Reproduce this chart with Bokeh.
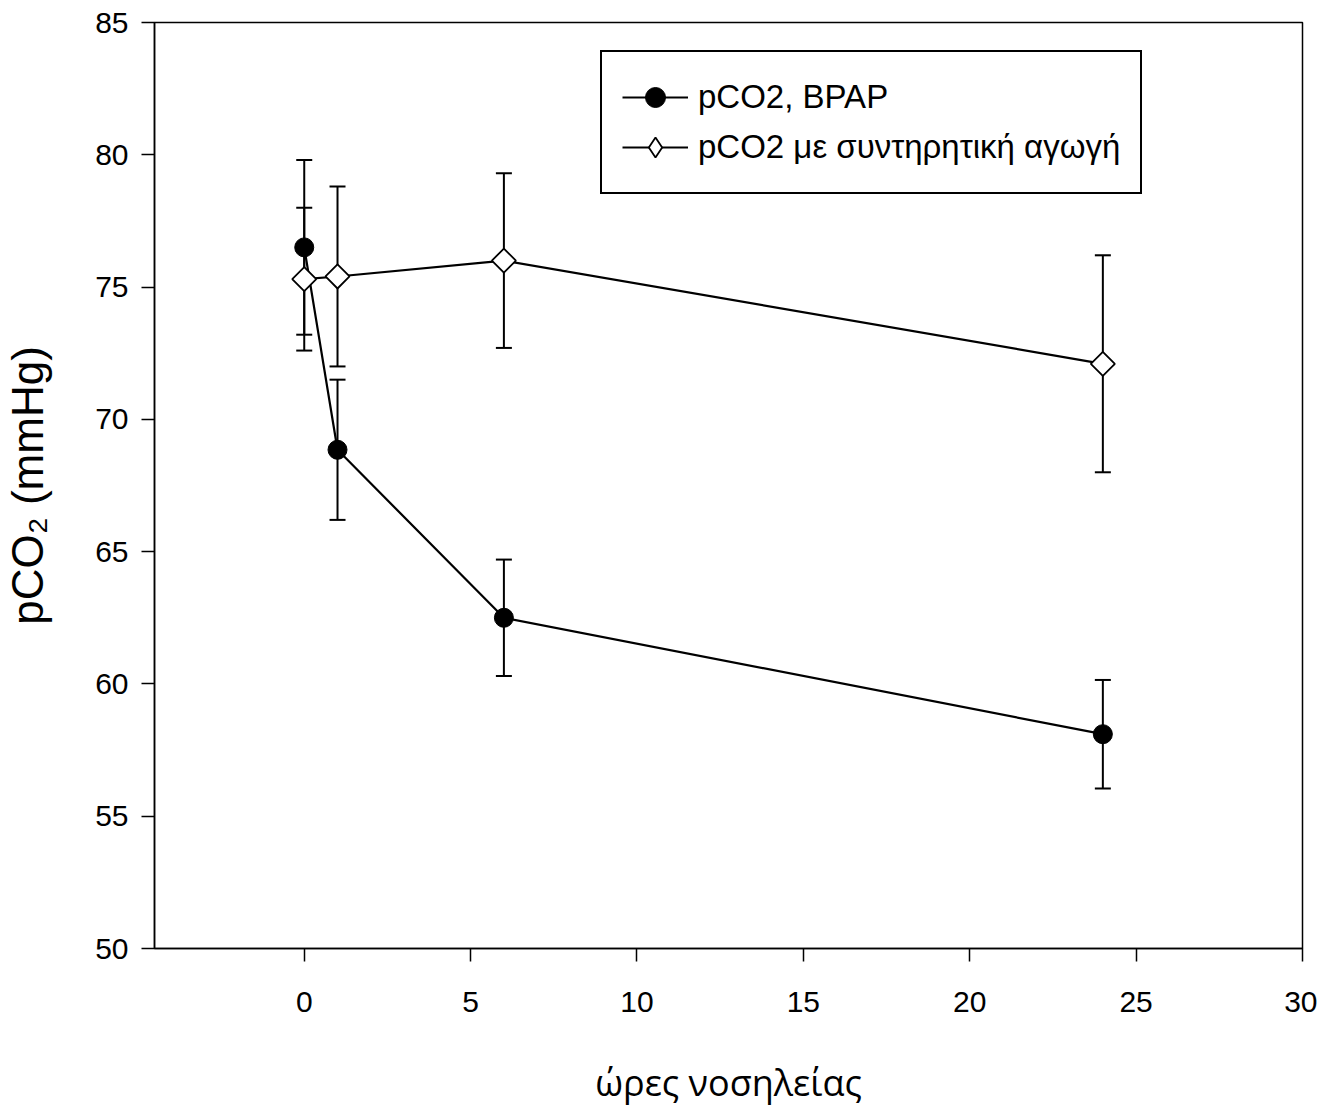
import numpy as np
from bokeh.plotting import figure
from bokeh.models import ColumnDataSource, Whisker, TeeHead, Legend, LegendItem, Range1d, FixedTicker
from bokeh.embed import file_html
from bokeh.resources import INLINE

# Data
hours = [0, 1, 6, 24]
bpap_mean = [76.5, 68.85, 62.5, 58.1]
bpap_err = [3.3, 2.65, 2.2, 2.05]
cons_mean = [75.3, 75.4, 76.0, 72.1]
cons_err = [2.7, 3.4, 3.3, 4.1]
x_ticks = [0, 5, 10, 15, 20, 25, 30]
y_ticks = [50, 55, 60, 65, 70, 75, 80, 85]
series_names = ["pCO2, BPAP", "pCO2 με συντηρητική αγωγή"]

bpap_src = ColumnDataSource(dict(
    x=hours, y=bpap_mean,
    lo=[m - e for m, e in zip(bpap_mean, bpap_err)],
    hi=[m + e for m, e in zip(bpap_mean, bpap_err)]))
cons_src = ColumnDataSource(dict(
    x=hours, y=cons_mean,
    lo=[m - e for m, e in zip(cons_mean, cons_err)],
    hi=[m + e for m, e in zip(cons_mean, cons_err)]))

p = figure(width=1317, height=1093, output_backend="svg", toolbar_location=None,
           x_range=Range1d(-4.5, 30), y_range=Range1d(50, 85),
           min_border_left=154, min_border_top=22, min_border_right=15, min_border_bottom=145)
p.frame_width = 1148
p.frame_height = 926

p.grid.visible = False
p.outline_line_color = "black"
p.outline_line_width = 1.5
p.outline_line_alpha = 1.0
p.background_fill_color = "white"
p.border_fill_color = "white"

for ax in (p.xaxis[0], p.yaxis[0]):
    ax.axis_line_color = "black"
    ax.axis_line_width = 1.5
    ax.major_tick_line_color = "black"
    ax.major_tick_line_width = 1.5
    ax.major_tick_out = 13
    ax.major_tick_in = 0
    ax.minor_tick_line_color = None
    ax.major_label_text_font = "Liberation Sans"
    ax.major_label_text_font_size = "30px"
    ax.major_label_text_color = "black"
    ax.axis_label_text_font_style = "normal"
    ax.axis_label_text_color = "black"

p.xaxis.ticker = FixedTicker(ticks=x_ticks)
p.yaxis.ticker = FixedTicker(ticks=y_ticks)
p.xaxis.major_label_standoff = 30
p.yaxis.major_label_standoff = 13

p.xaxis.axis_label = "ώρες νοσηλείας"
p.xaxis.axis_label_text_font = "Open Sans"
p.xaxis.axis_label_text_font_size = "36px"
p.xaxis.axis_label_standoff = 43

p.yaxis.axis_label = "pCO₂ (mmHg)"
p.yaxis.axis_label_text_font = "Liberation Sans"
p.yaxis.axis_label_text_font_size = "44px"
p.yaxis.axis_label_standoff = 40

# error bars
for src in (bpap_src, cons_src):
    w = Whisker(source=src, base="x", lower="lo", upper="hi", dimension="height",
                line_color="black", line_width=2,
                lower_head=TeeHead(size=16, line_color="black", line_width=2),
                upper_head=TeeHead(size=16, line_color="black", line_width=2))
    p.add_layout(w)

l1 = p.line("x", "y", source=bpap_src, line_color="black", line_width=2.2)
l2 = p.line("x", "y", source=cons_src, line_color="black", line_width=2.2)
s2 = p.scatter("x", "y", source=cons_src, marker="square", angle=np.pi / 4, size=17,
               fill_color="white", line_color="black", line_width=1.8)
s1 = p.scatter("x", "y", source=bpap_src, marker="circle", size=19,
               fill_color="black", line_color="black")
# legend-only diamond marker (legend glyphs are drawn unrotated); NaN = not drawn in plot
s2_leg = p.scatter(x=[np.nan], y=[np.nan], marker="diamond", fill_color="white",
                   line_color="black", line_width=1.8)

legend = Legend(items=[LegendItem(label=series_names[0], renderers=[l1, s1]),
                       LegendItem(label=series_names[1], renderers=[l2, s2_leg])],
                location=(446, 754), orientation="vertical",
                label_text_font="Liberation Sans", label_text_font_size="33px",
                label_text_color="black",
                glyph_width=66, glyph_height=50, label_height=50, label_standoff=10,
                spacing=0, padding=20, margin=0,
                border_line_color="black", border_line_width=2, border_line_alpha=1.0,
                background_fill_color="white", background_fill_alpha=1.0)
p.add_layout(legend, "center")

open("out.html", "w").write(file_html(p, INLINE))
